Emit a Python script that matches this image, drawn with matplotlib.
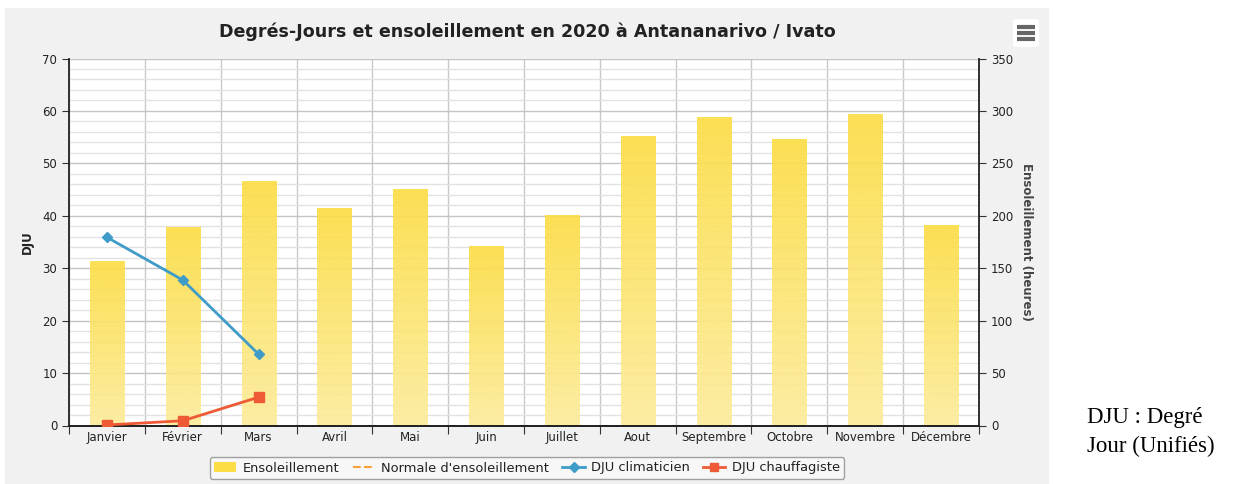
import matplotlib.pyplot as plt
import numpy as np
from matplotlib.patches import Patch, Rectangle, FancyBboxPatch
from matplotlib.lines import Line2D
from matplotlib.colors import LinearSegmentedColormap

# données 2020 - Antananarivo / Ivato
mois = ['Janvier', 'Février', 'Mars', 'Avril', 'Mai', 'Juin', 'Juillet',
        'Aout', 'Septembre', 'Octobre', 'Novembre', 'Décembre']
ensoleillement = [156, 188, 232, 206, 225, 170.5, 200, 275, 293, 272, 296, 190.5]
normale_ensoleillement = []
dju_clim = [35.9, 27.75, 13.6]
dju_chauf = [0.1, 0.9, 5.4]

texte = '#222222'
jaune_haut = '#fcdd45'
jaune_bas = '#fcec9c'
bleu = '#3f9bc8'
rouge = '#ee5a35'
orange = '#f7a035'

fig = plt.figure(figsize=(12.51, 4.84), dpi=100)
fig.patch.set_facecolor('white')

# fond du conteneur
fig.patches.append(Rectangle((5 / 1251, 0), 1044 / 1251, 1 - 8 / 484,
                             transform=fig.transFigure, facecolor='#f1f1f1',
                             edgecolor='none', zorder=-10))

ax2 = fig.add_axes([69 / 1251, 58.5 / 484, 910 / 1251, 367 / 484])
ax = ax2.twinx()
ax2.yaxis.tick_right()
ax2.yaxis.set_label_position('right')
ax.yaxis.tick_left()
ax.yaxis.set_label_position('left')
ax.set_zorder(ax2.get_zorder() + 1)
ax.patch.set_visible(False)
ax2.set_facecolor('white')

x = np.arange(len(mois))
largeur = 0.45
cmap = LinearSegmentedColormap.from_list('soleil', [jaune_bas, jaune_haut])
grad = np.linspace(0, 1, 256).reshape(-1, 1)
for xi, h in zip(x, ensoleillement):
    ax2.imshow(grad, extent=[xi - largeur / 2, xi + largeur / 2, 0, h],
               origin='lower', aspect='auto', cmap=cmap, alpha=0.92, zorder=2)
ax2.plot(x[:len(normale_ensoleillement)], normale_ensoleillement,
         color=orange, linestyle='--')

ax.plot(x[:len(dju_clim)], dju_clim, color=bleu, linewidth=2,
        marker='D', markersize=5, zorder=5)
ax.plot(x[:len(dju_chauf)], dju_chauf, color=rouge, linewidth=2,
        marker='s', markersize=7, zorder=5)

ax.set_xlim(-0.5, len(mois) - 0.5)
ax2.set_xlim(-0.5, len(mois) - 0.5)
ax.set_ylim(0, 70)
ax2.set_ylim(0, 350)

# axe des x : traits aux limites des catégories, noms au centre
ax2.set_xticks(np.arange(-0.5, len(mois), 1.0))
ax2.set_xticklabels([])
ax2.set_xticks(x, minor=True)
ax2.set_xticklabels(mois, minor=True, fontsize=8.5, color=texte)
ax2.tick_params(axis='x', which='major', length=6, direction='out', color='#333333')
ax2.tick_params(axis='x', which='minor', length=0, pad=4)
ax2.grid(axis='x', which='major', color='#c8c8c8', linewidth=1)

ax.set_yticks(range(0, 71, 10))
ax.tick_params(axis='y', labelsize=8.5, labelcolor=texte, length=5,
               direction='out', color='#333333')
ax2.set_yticks(range(0, 351, 50))
ax2.set_yticks(range(0, 351, 10), minor=True)
ax2.tick_params(axis='y', which='major', labelsize=8.5, labelcolor=texte,
                length=5, direction='out', color='#333333')
ax2.tick_params(axis='y', which='minor', length=0)
ax2.grid(axis='y', which='major', color='#c4c4c4', linewidth=1, zorder=0)
ax2.grid(axis='y', which='minor', color='#e2e2e2', linewidth=1, zorder=0)
ax2.set_axisbelow(True)

for a in (ax, ax2):
    a.spines['top'].set_visible(False)
    a.spines['bottom'].set_color('#222222')
    a.spines['bottom'].set_linewidth(1.3)
ax.spines['left'].set_color('#222222')
ax.spines['left'].set_linewidth(1.3)
ax.spines['right'].set_visible(False)
ax2.spines['left'].set_visible(False)
ax2.spines['right'].set_color('#222222')
ax2.spines['right'].set_linewidth(1.3)

ax.set_ylabel('DJU', fontsize=8.5, fontweight='bold', color=texte, labelpad=6)
ax2.set_ylabel('Ensoleillement (heures)', fontsize=8.5, fontweight='bold',
               color='#444444', rotation=270, labelpad=14)

fig.text(527 / 1251, 1 - 32 / 484,
         'Degrés-Jours et ensoleillement en 2020 à Antananarivo / Ivato',
         ha='center', va='center', fontsize=12.6, fontweight='bold', color=texte)

# bouton de menu
fig.patches.append(FancyBboxPatch((1013 / 1251, 1 - 47 / 484), 26 / 1251, 28 / 484,
                                  boxstyle='round,pad=0,rounding_size=0.004',
                                  transform=fig.transFigure, facecolor='white',
                                  edgecolor='none'))
for yy in (27, 33, 39):
    fig.lines.append(Line2D([1017 / 1251, 1035 / 1251], [1 - yy / 484] * 2,
                            transform=fig.transFigure, color='#666666',
                            linewidth=3, solid_capstyle='butt'))

poignees = [
    Patch(facecolor=jaune_haut, edgecolor='none'),
    Line2D([], [], color=orange, linestyle='--', linewidth=1.5),
    Line2D([], [], color=bleu, linewidth=2, marker='D', markersize=5),
    Line2D([], [], color=rouge, linewidth=2, marker='s', markersize=6),
]
etiquettes = ['Ensoleillement', "Normale d'ensoleillement", 'DJU climaticien',
              'DJU chauffagiste']
leg = fig.legend(poignees, etiquettes, loc='center',
                 bbox_to_anchor=(527 / 1251, 1 - 468 / 484), ncol=4,
                 fontsize=9.4, frameon=True, fancybox=True, handlelength=1.7,
                 columnspacing=1.0, handletextpad=0.5, borderpad=0.35)
leg.get_frame().set_edgecolor('#a0a0a0')
leg.get_frame().set_facecolor('#f7f7f7')
leg.get_frame().set_alpha(1)
for t in leg.get_texts():
    t.set_color(texte)

fig.text(1087 / 1251, 1 - 423 / 484, 'DJU : Degré', family='Liberation Serif',
         fontsize=16.5, color='black', va='baseline', ha='left')
fig.text(1087 / 1251, 1 - 452 / 484, 'Jour (Unifiés)', family='Liberation Serif',
         fontsize=16.5, color='black', va='baseline', ha='left')

fig.savefig('out.png', dpi=100)
